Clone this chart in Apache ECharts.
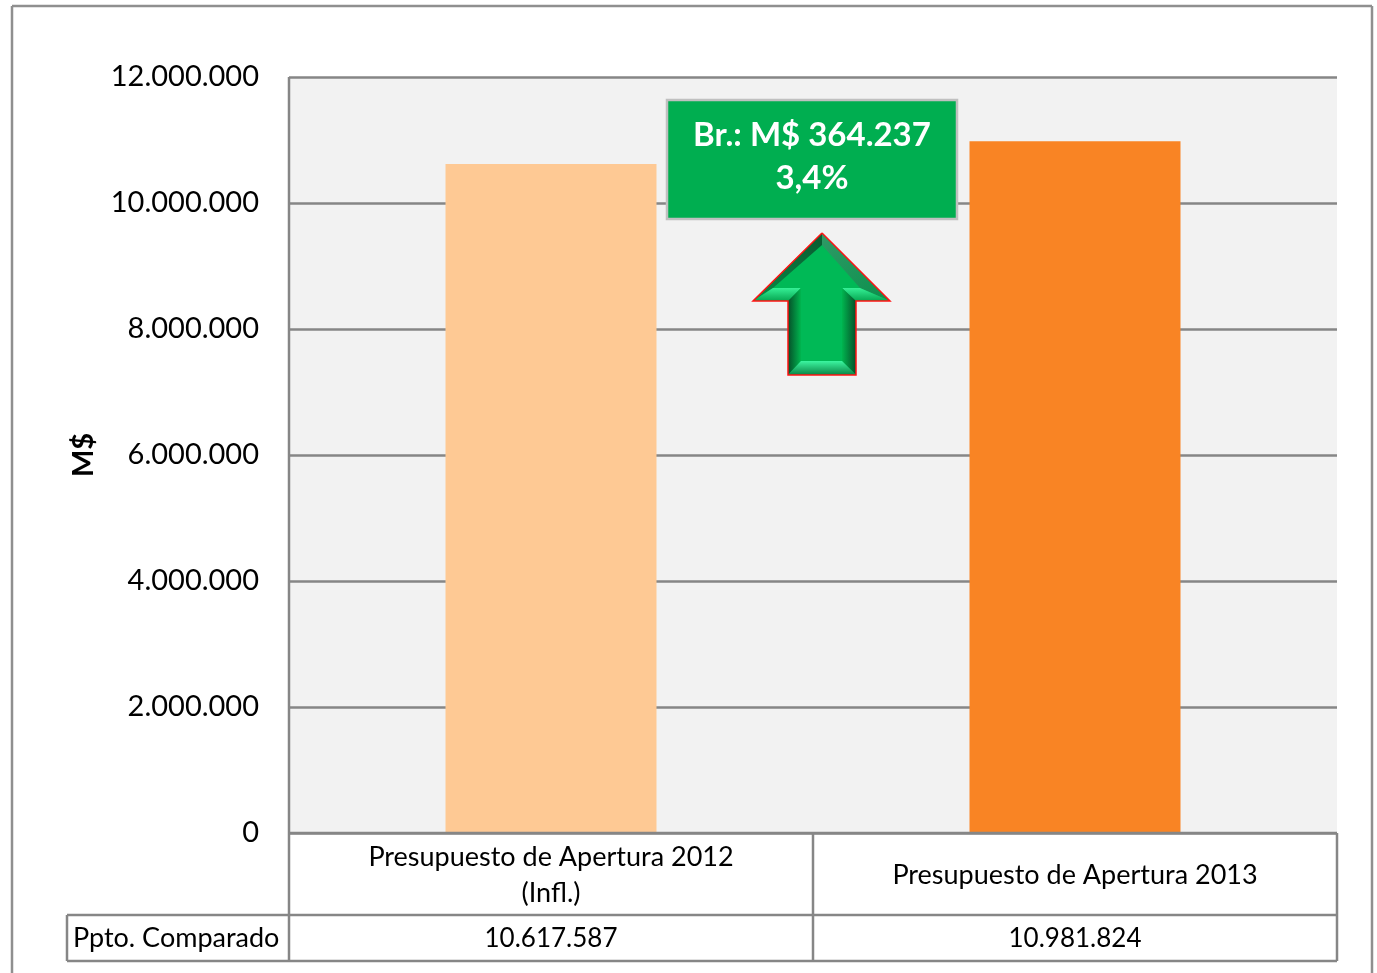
<!DOCTYPE html>
<html>
<head>
<meta charset="UTF-8">
<title>Presupuesto de Apertura</title>
<script src="https://cdn.jsdelivr.net/npm/echarts@6/dist/echarts.min.js"></script>
<style>
html,body{margin:0;padding:0;background:#fff;overflow:hidden;}
#chart{width:1377px;height:973px;}
</style>
</head>
<body>
<div id="chart"></div>
<script>
var categories=['Presupuesto de Apertura 2012\n(Infl.)','Presupuesto de Apertura 2013'];
var tableValues=['10.617.587','10.981.824'];
var values=[10617587,10981824];
var barColors=['#fec994','#f98424'];
var tableTitle='Ppto. Comparado';
var boxText='Br.: M$ 364.237\n3,4%';

var fontName='Lato';
var lineColor='#868686';

function line(x1,y1,x2,y2,color,width){
	return {type:'line',silent:true,z:20,shape:{x1:x1,y1:y1,x2:x2,y2:y2},style:{stroke:color||lineColor,lineWidth:width||2.5}};
}
function poly(points,fill){
	return {type:'polygon',silent:true,z:31,shape:{points:points},style:{fill:fill}};
}
function grad(x,y,x2,y2,c1,c2){
	return new echarts.graphic.LinearGradient(x,y,x2,y2,[{offset:0,color:c1},{offset:1,color:c2}]);
}

var chart=echarts.init(document.getElementById('chart'),null,{renderer:'canvas'});
chart.setOption({
	animation:false,
	backgroundColor:'#fff',
	grid:{left:289,top:77,width:1048,height:756,show:true,backgroundColor:'#f2f2f2',borderWidth:0},
	xAxis:[
		{
			type:'category',
			data:categories,
			axisLine:{show:false},
			axisTick:{show:false},
			axisLabel:{fontFamily:fontName,fontSize:27,color:'#000',margin:42,verticalAlign:'middle',lineHeight:36,interval:0}
		},
		{
			type:'category',
			position:'bottom',
			data:tableValues,
			axisLine:{show:false},
			axisTick:{show:false},
			axisLabel:{fontFamily:fontName,fontSize:26,color:'#000',margin:106,verticalAlign:'middle',interval:0}
		}
	],
	yAxis:{
		type:'value',
		min:0,
		max:12000000,
		interval:2000000,
		name:'M$',
		nameLocation:'middle',
		nameGap:191,
		nameTextStyle:{fontFamily:fontName,fontSize:29,fontWeight:'bold',color:'#000'},
		axisLine:{show:false},
		axisTick:{show:false},
		splitLine:{show:true,lineStyle:{color:lineColor,width:2.5}},
		axisLabel:{
			fontFamily:fontName,fontSize:29,color:'#000',margin:30,padding:[2,0,0,0],
			formatter:function(v){return String(v).replace(/\B(?=(\d{3})+$)/g,'.');}
		}
	},
	series:[{
		type:'bar',
		xAxisIndex:0,
		barWidth:211,
		data:values.map(function(v,i){return {value:v,itemStyle:{color:barColors[i]}};})
	}],
	graphic:[
		// marco exterior
		line(12,6,1372,6,'#8f8f8f',2.5),
		line(1372,6,1372,973,'#8f8f8f',2.5),
		line(12,6,12,973,'#8f8f8f',2.5),
		// tabla de datos
		line(289,77,289,961),
		line(289,833,1337,833),
		line(1337,833,1337,961),
		line(813,833,813,961),
		line(67,915,1337,915),
		line(67,961,1337,961),
		line(67,915,67,961),
		{type:'text',silent:true,z:21,style:{x:73,y:938,text:tableTitle,font:'27px '+fontName,fill:'#000',textVerticalAlign:'middle'}},
		// cuadro verde
		{type:'rect',silent:true,z:30,shape:{x:667,y:100,width:290,height:119},style:{fill:'#00ae50',stroke:'#c0c0c0',lineWidth:2.5}},
		{type:'text',silent:true,z:31,style:{x:812,y:157,text:boxText,font:'bold 33px '+fontName,fill:'#fff',align:'center',verticalAlign:'middle',lineHeight:43}},
		// flecha
		poly([[822,233],[890,301],[856,301],[856,375],[788,375],[788,301],[753,301]],'#00b956'),
		// biseles de la punta
		poly([[822,233],[753,301],[773,288],[822,245]],grad(1,0,0,1,'#0a5a30','#0a8a47')),
		poly([[822,233],[890,301],[860,288],[822,245]],grad(0,0,1,1,'#2f9a66','#0c8f4c')),
		poly([[753,301],[773,288],[801,288],[788,301]],grad(0,0,0,1,'#35f096','#07a651')),
		poly([[890,301],[860,288],[842,288],[856,301]],grad(0,0,0,1,'#35f096','#07a651')),
		// biseles del cuerpo
		poly([[788,301],[801,288],[801,361],[788,375]],grad(0,0,1,0,'#064f29','#00b54f')),
		poly([[856,301],[842,288],[842,361],[856,375]],grad(1,0,0,0,'#064f29','#00b54f')),
		poly([[788,375],[801,361],[842,361],[856,375]],grad(0,0,0,1,'#3cf5a0','#0a8546')),
		{type:'polyline',silent:true,z:32,shape:{points:[[822,233],[890,301],[856,301],[856,375],[788,375],[788,301],[753,301],[822,233]]},style:{stroke:'#ff1414',lineWidth:1.5,fill:null}}
	]
});
</script>
</body>
</html>
